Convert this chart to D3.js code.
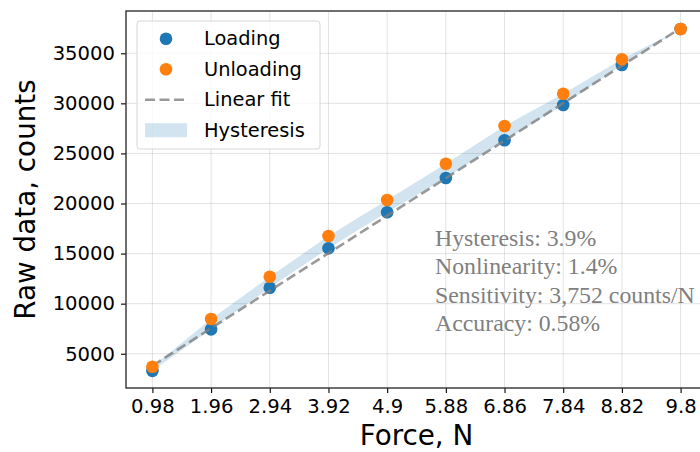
<!DOCTYPE html>
<html>
<head>
<meta charset="utf-8">
<script src="https://cdn.jsdelivr.net/npm/d3@7"></script>
<style>
  body { margin: 0; background: #fff; }
  text { font-family: "DejaVu Sans", sans-serif; }
  .grid line { stroke: #b0b0b0; stroke-opacity: 0.35; stroke-width: 1; }
  .stats text { font-family: "Liberation Serif", "DejaVu Serif", serif; fill: #7f7f7f; }
</style>
</head>
<body>
<div id="chart"></div>
<script>
'use strict'
// data
let force = [0.98, 1.96, 2.94, 3.92, 4.9, 5.88, 6.86, 7.84, 8.82, 9.8]
let loading = [3290, 7437, 11591, 15526, 19122, 22547, 26312, 29838, 33832, 37428]
let unloading = [3700, 8466, 12690, 16755, 20351, 23975, 27740, 30966, 34401, 37428]
let fitX = [0.98, 9.8]
let fitY = [3800, 37510]
let yTicks = [5000, 10000, 15000, 20000, 25000, 30000, 35000]
let stats = ["Hysteresis: 3.9%", "Nonlinearity: 1.4%", "Sensitivity: 3,752 counts/N", "Accuracy: 0.58%"]

let W = 700, H = 452
let m = {left: 126, top: 11, bottom: 388, right: 707}

let svg = d3.select('#chart').append('svg')
  .attr('width', W).attr('height', H)

// matplotlib style 5% margins
let xMin = d3.min(force), xMax = d3.max(force)
let xPad = (xMax - xMin) * 0.05
let allY = loading.concat(unloading, fitY)
let yMin = d3.min(allY), yMax = d3.max(allY)
let yPad = (yMax - yMin) * 0.05

let x = d3.scaleLinear().domain([xMin - xPad, xMax + xPad]).range([m.left, m.right])
let y = d3.scaleLinear().domain([yMin - yPad, yMax + yPad]).range([m.bottom, m.top])

svg.append('clipPath').attr('id', 'plot')
  .append('rect').attr('x', m.left).attr('y', m.top)
  .attr('width', m.right - m.left).attr('height', m.bottom - m.top)

// grid
let grid = svg.append('g').attr('class', 'grid')
grid.selectAll('.gx').data(force).enter().append('line')
  .attr('x1', d => x(d)).attr('x2', d => x(d))
  .attr('y1', m.top).attr('y2', m.bottom)
grid.selectAll('.gy').data(yTicks).enter().append('line')
  .attr('x1', m.left).attr('x2', m.right)
  .attr('y1', d => y(d)).attr('y2', d => y(d))

let plot = svg.append('g').attr('clip-path', 'url(#plot)')

// hysteresis band
let band = d3.area()
  .x((d, i) => x(force[i]))
  .y0((d, i) => y(loading[i]))
  .y1((d, i) => y(unloading[i]))
plot.append('path')
  .datum(force)
  .attr('d', band)
  .attr('fill', '#1f77b4')
  .attr('fill-opacity', 0.2)

plot.selectAll('.load').data(loading).enter().append('circle')
  .attr('cx', (d, i) => x(force[i]))
  .attr('cy', d => y(d))
  .attr('r', 6.3)
  .attr('fill', '#1f77b4')

plot.append('path')
  .datum(fitX)
  .attr('d', d3.line().x(d => x(d)).y((d, i) => y(fitY[i])))
  .attr('fill', 'none')
  .attr('stroke', '#7f7f7f')
  .attr('stroke-opacity', 0.8)
  .attr('stroke-width', 2.6)
  .attr('stroke-dasharray', '10,4.5')

plot.selectAll('.unload').data(unloading).enter().append('circle')
  .attr('cx', (d, i) => x(force[i]))
  .attr('cy', d => y(d))
  .attr('r', 6.3)
  .attr('fill', '#ff7f0e')

// axes
let xAxis = svg.append('g')
  .attr('transform', 'translate(0,' + m.bottom + ')')
  .call(d3.axisBottom(x).tickValues(force).tickFormat(d => String(d)).tickSize(5).tickPadding(6))
let yAxis = svg.append('g')
  .attr('transform', 'translate(' + m.left + ',0)')
  .call(d3.axisLeft(y).tickValues(yTicks).tickFormat(d3.format('d')).tickSize(5).tickPadding(6))

;[xAxis, yAxis].forEach(function(a){
  a.select('.domain').remove()
  a.selectAll('text').style('font-size', '19.6px').attr('fill', '#000')
    .style('font-family', '"DejaVu Sans", sans-serif')
  a.selectAll('line').attr('stroke', '#000').attr('stroke-width', 1.1)
})

svg.append('rect')
  .attr('x', m.left).attr('y', m.top)
  .attr('width', m.right - m.left).attr('height', m.bottom - m.top)
  .attr('fill', 'none').attr('stroke', '#222').attr('stroke-width', 1.3)

svg.append('text')
  .attr('x', (m.left + m.right) / 2).attr('y', 445)
  .attr('text-anchor', 'middle')
  .style('font-size', '27.8px')
  .text('Force, N')

svg.append('text')
  .attr('transform', 'translate(35,' + ((m.top + m.bottom) / 2) + ') rotate(-90)')
  .attr('text-anchor', 'middle')
  .style('font-size', '27.8px')
  .text('Raw data, counts')

// stats text
svg.append('g').attr('class', 'stats')
  .selectAll('text').data(stats).enter().append('text')
  .attr('x', 435)
  .attr('y', (d, i) => 246 + i * 28.4)
  .style('font-size', '23.8px')
  .text(d => d)

// legend
let lg = svg.append('g').attr('transform', 'translate(137,21)')
lg.append('rect')
  .attr('width', 183).attr('height', 128)
  .attr('rx', 3).attr('ry', 3)
  .attr('fill', '#fff').attr('fill-opacity', 0.8)
  .attr('stroke', '#d6d6d6')

let legendItems = [
  {name: 'Loading', kind: 'dot', color: '#1f77b4'},
  {name: 'Unloading', kind: 'dot', color: '#ff7f0e'},
  {name: 'Linear fit', kind: 'line', color: '#7f7f7f'},
  {name: 'Hysteresis', kind: 'patch', color: '#1f77b4'}
]
let item = lg.selectAll('.item').data(legendItems).enter().append('g')
  .attr('transform', (d, i) => 'translate(0,' + (17.7 + i * 30.5) + ')')
item.each(function(d){
  let g = d3.select(this)
  if (d.kind == 'dot') {
    g.append('circle').attr('cx', 29).attr('cy', 0).attr('r', 6.3).attr('fill', d.color)
  } else if (d.kind == 'line') {
    g.append('line').attr('x1', 8).attr('x2', 50).attr('y1', 0).attr('y2', 0)
      .attr('stroke', d.color).attr('stroke-opacity', 0.8)
      .attr('stroke-width', 2.6).attr('stroke-dasharray', '10,4.5')
  } else {
    g.append('rect').attr('x', 8).attr('y', -7).attr('width', 42).attr('height', 14)
      .attr('fill', d.color).attr('fill-opacity', 0.2)
  }
  g.append('text').attr('x', 67).attr('y', 0).attr('dy', '0.35em')
    .style('font-size', '19.4px').text(d.name)
})
</script>
</body>
</html>
